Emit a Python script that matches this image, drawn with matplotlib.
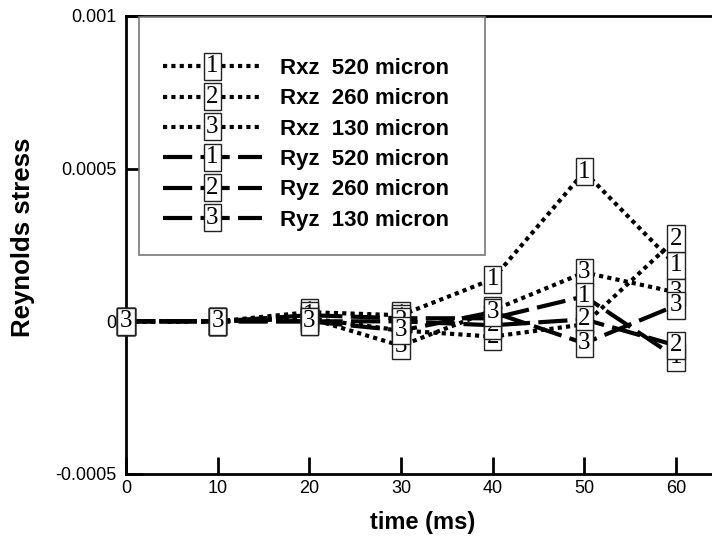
import matplotlib
matplotlib.use("Agg")
import matplotlib.pyplot as plt
import matplotlib.ticker as ticker
from matplotlib.lines import Line2D
from matplotlib.text import Text
from matplotlib.patches import Rectangle
from matplotlib.legend_handler import HandlerBase

plt.rcParams['font.family'] = ['Liberation Sans', 'DejaVu Sans']

# time, ms
time_ms = [0, 10, 20, 30, 40, 50, 60]

# Reynolds stress series
rxz_520 = [0, 0, 0.00003, 0.00002, 0.000138, 0.00049, 0.000183]
rxz_260 = [0, 0, 0.00001, -0.00003, -0.00005, -0.00001, 0.00027]
rxz_130 = [0, 0, 0.00001, -0.00008, 0.000036, 0.00016, 0.000095]
ryz_520 = [0, 0, 0.00002, 0.00001, 0.00001, 0.000082, -0.000118]
ryz_260 = [0, 0, 0.0, 0.0, -0.000013, 0.0000065, -0.000079]
ryz_130 = [0, 0, 0.0, -0.00003, 0.00003, -0.000072, 0.000052]

series = [rxz_520, rxz_260, rxz_130, ryz_520, ryz_260, ryz_130]
labels = ["Rxz  520 micron", "Rxz  260 micron", "Rxz  130 micron",
          "Ryz  520 micron", "Ryz  260 micron", "Ryz  130 micron"]
digits = ["1", "2", "3", "1", "2", "3"]

y_ticks = [-0.0005, 0, 0.0005, 0.001]
y_tick_labels = ["-0.0005", "0", "0.0005", "0.001"]
x_ticks = [0, 10, 20, 30, 40, 50, 60]

W, H = 712, 540
fig = plt.figure(figsize=(W / 100, H / 100), dpi=100)

# axes placed in pixels; right side runs past the figure edge
left_px, top_px, bottom_px = 126, 16, 474
xmax = 70
px_per_unit = (676 - 126) / 60.0
ax = fig.add_axes([left_px / W, (H - bottom_px) / H,
                   xmax * px_per_unit / W, (bottom_px - top_px) / H])

serif = ["Liberation Serif", "DejaVu Serif"]
box_props = dict(boxstyle="square,pad=0.1", fc="white", ec="#222222", lw=1)
dotted = (0, (1, 1))
dashed = (0, (7, 2))
styles = [dotted] * 3 + [dashed] * 3

lines = []
for vals, ls in zip(series, styles):
    ln, = ax.plot(time_ms, vals, color="black", lw=3, ls=ls,
                  dash_capstyle="butt", solid_capstyle="butt")
    lines.append(ln)

for vals, d in zip(series, digits):
    for x, y in zip(time_ms, vals):
        ax.text(x, y, d, ha="center", va="center", fontsize=18,
                family=serif, bbox=box_props, zorder=5)

ax.set_xlim(0, xmax)
ax.set_ylim(-0.0005, 0.001)
ax.set_xticks(x_ticks)
ax.set_yticks(y_ticks)
ax.yaxis.set_major_formatter(ticker.FixedFormatter(y_tick_labels))
ax.tick_params(direction="in", length=12, width=2, labelsize=13, pad=7)
ax.tick_params(axis="x", pad=4)
for s in ax.spines.values():
    s.set_linewidth(2)

fig.text(423 / W, 1 - 522 / H, "time (ms)", ha="center", va="center",
         fontsize=17, fontweight="bold")
fig.text(23 / W, 1 - 237 / H, "Reynolds stress", ha="center", va="center",
         rotation=90, fontsize=18.5, fontweight="bold")


class BoxDigitHandler(HandlerBase):
    def __init__(self, digit):
        super().__init__()
        self.digit = digit

    def create_artists(self, legend, orig_handle, xdescent, ydescent,
                       width, height, fontsize, trans):
        y = height / 2 - ydescent
        line = Line2D([-xdescent, width - xdescent], [y, y])
        line.update_from(orig_handle)
        line.set_transform(trans)
        txt = Text(width / 2 - xdescent, y, self.digit, ha="center",
                   va="center", fontsize=18, family=serif, bbox=box_props)
        txt.set_transform(trans)
        return [line, txt]


# legend frame
ax_w_px = xmax * px_per_unit
ax_h_px = bottom_px - top_px
fx0, fx1, fy0, fy1 = 139, 485, 17, 255
ax.add_patch(Rectangle(((fx0 - left_px) / ax_w_px, (bottom_px - fy1) / ax_h_px),
                       (fx1 - fx0) / ax_w_px, (fy1 - fy0) / ax_h_px,
                       transform=ax.transAxes, fc="white", ec="#777777",
                       lw=1.2, zorder=6))

leg = ax.legend(lines, labels, loc="upper left",
                bbox_to_anchor=((163 - left_px) / ax_w_px,
                                (bottom_px - 58) / ax_h_px),
                frameon=False, prop=dict(weight="bold", size=16),
                handlelength=4.45, handletextpad=0.8, labelspacing=0.42,
                borderpad=0, borderaxespad=0,
                handler_map={ln: BoxDigitHandler(d) for ln, d in zip(lines, digits)})
leg.set_zorder(7)

fig.savefig("out.png", dpi=100)
